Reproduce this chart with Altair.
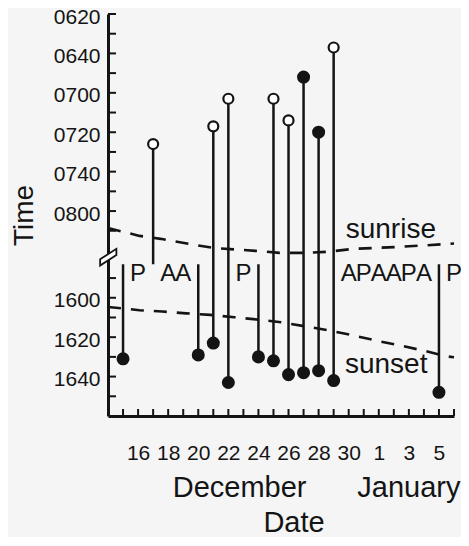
import altair as alt
import pandas as pd

# ---------------- data ----------------
# x = day number counted from 1 December (1 January = 32)
event_days  = [15, 17, 20, 21, 22, 24, 25, 26, 27, 28, 29, 36]
start_times = [None, "0726", None, "0717", "0703", None, "0703", "0714", "0652", "0720", "0637", None]
start_kind  = [None, "open", None, "open", "open", None, "open", "open", "filled", "filled", "open", None]
end_times   = ["1631", None, "1629", "1623", "1643", "1630", "1632", "1639", "1638", "1637", "1642", "1648"]

# sunrise / sunset curves (minutes after midnight)
sunrise_days = [14, 16.1, 17.5, 19.4, 21.0, 23.8, 25.4, 27.0, 28.6, 30.3, 33.3, 36.6, 37]
sunrise_min  = [488.6, 492.6, 494.1, 496.7, 498.7, 500.2, 501.2, 501.2, 500.7, 499.2, 498.2, 496.7, 496.5]
sunset_days  = [14, 16.1, 17.6, 19.2, 20.8, 22.4, 24.0, 25.5, 27.2, 28.7, 30.3, 31.8, 33.4, 34.9, 36.5, 37]
sunset_min   = [964.7, 966.3, 967.0, 967.9, 968.7, 969.9, 971.1, 972.4, 974.6, 976.6, 979.1,
                981.7, 984.2, 986.7, 989.7, 990.2]

# A / P letters above the break
letter_days = [16, 18, 19, 23, 30, 31, 32, 33, 34, 35, 37]
letters     = ["P", "A", "A", "P", "A", "P", "A", "A", "P", "A", "P"]

# axis labels
x_label_days = [16, 18, 20, 22, 24, 26, 28, 30, 32, 34, 36]
x_labels     = ["16", "18", "20", "22", "24", "26", "28", "30", "1", "3", "5"]
y_labels     = ["0620", "0640", "0700", "0720", "0740", "0800", "1600", "1620", "1640"]
y_minor      = ["0620", "0630", "0640", "0650", "0700", "0710", "0720", "0730", "0740", "0750",
                "0800", "0810", "1550", "1600", "1610", "1620", "1630", "1640", "1650"]
months       = ["December", "January"]
month_days   = [22.75, 34.0]

# ---------------- broken time axis ----------------
GAP = 436      # afternoon times are shifted up by this many minutes
BREAK = 507    # axis position where lines are cut at the break


def hhmm(s):
    return int(s[:2]) * 60 + int(s[2:])


def ax(m):
    return m if m < 720 else m - GAP


rows, opens, fills = [], [], []
for d, s, k, e in zip(event_days, start_times, start_kind, end_times):
    top = ax(hhmm(s)) if s else BREAK
    bot = ax(hhmm(e)) if e else BREAK
    rows.append({"day": d, "v": top, "bot": bot})
    if s:
        (opens if k == "open" else fills).append({"day": d, "v": top})
    if e:
        fills.append({"day": d, "v": bot})
ev = pd.DataFrame(rows)
op = pd.DataFrame(opens)
fi = pd.DataFrame(fills)

sun = pd.DataFrame(
    [{"day": d, "v": ax(m), "s": "sunrise"} for d, m in zip(sunrise_days, sunrise_min)]
    + [{"day": d, "v": ax(m), "s": "sunset"} for d, m in zip(sunset_days, sunset_min)]
)
let = pd.DataFrame({"day": letter_days, "t": letters, "v": [515.4] * len(letters)})
sunlab = pd.DataFrame({"day": [29.8, 29.75], "v": [493.6, 562.3], "t": ["sunrise", "sunset"]})
mon = pd.DataFrame({"day": month_days, "t": months})
xt = pd.DataFrame({"day": list(range(15, 38))})
yt = pd.DataFrame({"v": [ax(hhmm(s)) for s in y_minor]})
brk = pd.DataFrame({"day": [14], "v": [504.2]})

FONT = "Liberation Sans"
INK = "#141414"

W, H = 346, 402

x_expr = " : ".join(f"datum.value == {d} ? '{l}'" for d, l in zip(x_label_days, x_labels)) + " : ''"
y_vals = [ax(hhmm(s)) for s in y_labels]
y_expr = " : ".join(f"datum.value == {v} ? '{l}'" for v, l in zip(y_vals, y_labels)) + " : ''"

xscale = alt.Scale(domain=[14, 37], nice=False, zero=False)
yscale = alt.Scale(domain=[380, 584], reverse=True, nice=False, zero=False)

xaxis = alt.Axis(values=list(range(14, 38)), labelExpr=x_expr, labelOverlap=False, ticks=False,
                 tickSize=0, grid=False, domainColor=INK, domainWidth=3, labelFont=FONT,
                 labelFontSize=21, labelColor=INK, labelPadding=26, title="Date", titleFont=FONT,
                 titleFontSize=29, titleFontWeight="normal", titleColor=INK, titleX=185.5, titleY=115,
                 titleAlign="center", titleBaseline="alphabetic")
yaxis = alt.Axis(values=y_vals, labelExpr=y_expr, labelOverlap=False, ticks=False, tickSize=0,
                 grid=False, domainColor=INK, domainWidth=3, labelFont=FONT, labelFontSize=21,
                 labelColor=INK, labelPadding=8, labelOffset=3, title="Time", titleFont=FONT,
                 titleFontSize=28, titleFontWeight="normal", titleColor=INK, titleAngle=270,
                 titleX=-76, titleY=201, titleAlign="center", titleBaseline="alphabetic")


def X():
    return alt.X("day:Q", scale=xscale, axis=xaxis)


def Y(f="v:Q"):
    return alt.Y(f, scale=yscale, axis=yaxis)


dashed = alt.Chart(sun).mark_line(strokeDash=[13, 10], strokeWidth=2.6, color=INK).encode(
    x=X(), y=Y(), detail="s:N")

rules = alt.Chart(ev).mark_rule(strokeWidth=2.5, color=INK).encode(
    x=X(), y=Y(), y2="bot:Q")

opn = alt.Chart(op).mark_point(shape="circle", filled=True, fill="white", stroke=INK,
                               strokeWidth=2.2, size=100, opacity=1).encode(x=X(), y=Y())

fil = alt.Chart(fi).mark_point(shape="circle", filled=True, color=INK, size=170, opacity=1).encode(
    x=X(), y=Y())

letters_l = alt.Chart(let).mark_text(font=FONT, fontSize=24, color=INK, align="center",
                                     baseline="alphabetic").encode(x=X(), y=Y(), text="t:N")

sun_l = alt.Chart(sunlab).mark_text(font=FONT, fontSize=28, color=INK, align="left",
                                    baseline="alphabetic").encode(x=X(), y=Y(), text="t:N")

mon_l = alt.Chart(mon).mark_text(font=FONT, fontSize=29, color=INK, align="center",
                                 baseline="alphabetic").encode(x=X(), y=alt.value(483), text="t:N")

xticks = alt.Chart(xt).mark_rule(strokeWidth=2, color=INK).encode(
    x=X(), y=alt.value(H), y2=alt.value(H - 7))

yticks = alt.Chart(yt).mark_rule(strokeWidth=2, color=INK).encode(
    y=Y(), x=alt.value(0), x2=alt.value(8))

BREAK_SHAPE = "M -0.75 0.05 L 0.8 -0.95 L 0.8 -0.35 L -0.75 0.65 Z"
brk_l = alt.Chart(brk).mark_point(shape=BREAK_SHAPE, filled=True, fill="white", stroke=INK,
                                  strokeWidth=1.8, size=440, opacity=1).encode(x=X(), y=Y())

chart = alt.layer(dashed, rules, xticks, yticks, opn, fil, letters_l, sun_l, mon_l, brk_l).properties(
    width=W, height=H,
    autosize=alt.AutoSizeParams(type="none"),
    padding={"left": 100, "top": 6, "right": 7, "bottom": 121},
    background="#f5f5f5",
).configure_view(strokeWidth=0)

chart.save("out.html", embed_options={"renderer": "svg", "actions": False})
